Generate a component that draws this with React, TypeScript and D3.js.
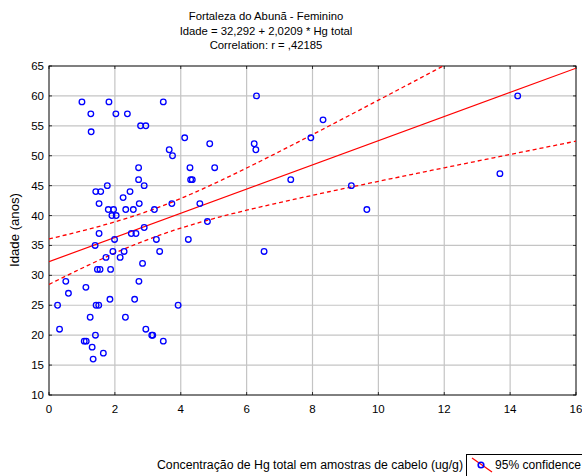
import React from "react";
import * as d3 from "d3";

// Hg total in hair (ug/g) and age (years) for each participant
const hgTotal = [
  1.0, 1.82, 3.47, 1.27, 2.03, 2.38, 1.28, 2.78, 2.94, 4.12, 3.65, 3.75, 2.72, 4.28, 2.72, 4.3, 4.35,
  2.89, 1.77, 1.42, 1.57, 1.52, 2.46, 2.25, 2.74, 3.73, 4.58, 1.8, 1.96, 1.91, 2.04, 2.33, 2.56, 3.2,
  1.52, 2.5, 2.64, 2.89, 1.4, 1.99, 3.26, 4.23, 1.94, 2.28, 3.36, 1.73, 2.16, 1.47, 1.55, 1.87, 2.84,
  0.51, 2.73, 0.59, 1.12, 0.26, 1.43, 1.51, 1.85, 2.6, 3.92, 0.32, 1.25, 2.32, 2.94, 1.07, 1.13, 1.41,
  3.12, 3.15, 3.47, 1.31, 1.34, 1.65, 6.3, 8.32, 7.95, 4.88, 6.23, 6.28, 5.03, 7.34, 9.18, 9.65, 4.81,
  6.53, 14.23, 13.69,
];
const idade = [
  59, 59, 59, 57, 57, 57, 54, 55, 55, 53, 51, 50, 48, 48, 46, 46, 46,
  45, 45, 44, 44, 42, 44, 43, 42, 42, 42, 41, 41, 40, 40, 41, 41, 41,
  37, 37, 37, 38, 35, 36, 36, 36, 34, 34, 34, 33, 33, 31, 31, 31, 32,
  29, 29, 27, 28, 25, 25, 25, 26, 26, 25, 21, 23, 23, 21, 19, 19, 20,
  20, 20, 19, 18, 16, 17, 60, 56, 53, 52, 52, 51, 48, 46, 45, 41, 39,
  34, 60, 47,
];

const intercept = 32.292;
const slope = 2.0209;

const titleLines = [
  "Fortaleza do Abunã - Feminino",
  "Idade = 32,292 + 2,0209 * Hg total",
  "Correlation: r = ,42185",
];
const xTicks = [0, 2, 4, 6, 8, 10, 12, 14, 16];
const yTicks = [10, 15, 20, 25, 30, 35, 40, 45, 50, 55, 60, 65];
const xTitle = "Concentração de Hg total em amostras de cabelo (ug/g)";
const yTitle = "Idade (anos)";
const legendLabel = "95% confidence";

const W = 582;
const H = 476;
const left = 49;
const right = 576;
const top = 66;
const bottom = 395;

export default function App() {
  const x = d3.scaleLinear().domain([0, 16]).range([left, right]);
  const y = d3.scaleLinear().domain([10, 65]).range([bottom, top]);

  const points = hgTotal.map((v, i) => ({ x: v, y: idade[i] }));
  const n = points.length;
  const xbar = d3.mean(hgTotal) as number;
  const sxx = d3.sum(hgTotal, (v) => (v - xbar) ** 2);
  const sse = d3.sum(points, (p) => (p.y - (intercept + slope * p.x)) ** 2);
  const s = Math.sqrt(sse / (n - 2));
  const t = 1.988;

  const fit = (v: number) => intercept + slope * v;
  const half = (v: number) => t * s * Math.sqrt(1 / n + (v - xbar) ** 2 / sxx);
  const xs = d3.range(0, 16.001, 0.1);

  const line = d3
    .line<number>()
    .x((v) => x(v))
    .y((v) => y(fit(v)));
  const upper = d3
    .line<number>()
    .x((v) => x(v))
    .y((v) => y(fit(v) + half(v)));
  const lower = d3
    .line<number>()
    .x((v) => x(v))
    .y((v) => y(fit(v) - half(v)));

  const font = "'Liberation Sans', Arial, sans-serif";

  return (
    <svg
      width={W}
      height={H}
      style={{ position: "absolute", left: 0, top: 0, background: "#fff" }}
      fontFamily={font}
    >
      <defs>
        <clipPath id="plotClip">
          <rect x={left} y={top} width={right - left} height={bottom - top} />
        </clipPath>
      </defs>
      <rect width={W} height={H} fill="#fff" />

      {titleLines.map((tl, i) => (
        <text key={i} x={266} y={20 + i * 14.5} textAnchor="middle" fontSize={11.3} fill="#000">
          {tl}
        </text>
      ))}

      {/* grid */}
      {xTicks.slice(1, -1).map((v) => (
        <line key={"gx" + v} x1={x(v)} x2={x(v)} y1={top} y2={bottom} stroke="#c4c4c4" strokeWidth={1.2} />
      ))}
      {yTicks.slice(1, -1).map((v) => (
        <line key={"gy" + v} x1={left} x2={right} y1={y(v)} y2={y(v)} stroke="#c4c4c4" strokeWidth={1.2} />
      ))}

      {/* inward ticks */}
      {xTicks.map((v) => (
        <g key={"tx" + v} stroke="#333" strokeWidth={1}>
          <line x1={x(v)} x2={x(v)} y1={top} y2={top + 3} />
          <line x1={x(v)} x2={x(v)} y1={bottom} y2={bottom - 3} />
        </g>
      ))}
      {yTicks.map((v) => (
        <g key={"ty" + v} stroke="#333" strokeWidth={1}>
          <line x1={left} x2={left + 3} y1={y(v)} y2={y(v)} />
          <line x1={right} x2={right - 3} y1={y(v)} y2={y(v)} />
        </g>
      ))}

      <rect x={left} y={top} width={right - left} height={bottom - top} fill="none" stroke="#000" strokeWidth={1} />

      {/* tick labels */}
      {xTicks.map((v) => (
        <text key={"lx" + v} x={x(v)} y={413} textAnchor="middle" fontSize={11.5} fill="#000">
          {v}
        </text>
      ))}
      {yTicks.map((v) => (
        <text key={"ly" + v} x={44} y={y(v) + 4} textAnchor="end" fontSize={11.5} fill="#000">
          {v}
        </text>
      ))}

      <g clipPath="url(#plotClip)" fill="none" stroke="#ff0000">
        <path d={upper(xs) ?? ""} strokeWidth={1.3} strokeDasharray="4,3" />
        <path d={lower(xs) ?? ""} strokeWidth={1.3} strokeDasharray="4,3" />
        <path d={line([0, 16]) ?? ""} strokeWidth={1.2} />
      </g>

      <g clipPath="url(#plotClip)">
        {points.map((p, i) => (
          <circle key={i} cx={x(p.x)} cy={y(p.y)} r={2.8} fill="none" stroke="#0000ff" strokeWidth={1.3} />
        ))}
      </g>

      <text
        x={16}
        y={230}
        transform="rotate(-90 16 230)"
        textAnchor="middle"
        dominantBaseline="middle"
        fontSize={12}
        fill="#000"
        textLength={74}
        lengthAdjust="spacingAndGlyphs"
      >
        {yTitle}
      </text>

      <text x={157} y={469} fontSize={12} fill="#000" textLength={306} lengthAdjust="spacingAndGlyphs">
        {xTitle}
      </text>

      {/* legend */}
      <rect x={466.5} y={454.5} width={130} height={30} fill="#fff" stroke="#000" strokeWidth={1} />
      <line x1={472} y1={458} x2={492} y2={472} stroke="#ff0000" strokeWidth={1.2} />
      <circle cx={481} cy={465} r={2.8} fill="none" stroke="#0000ff" strokeWidth={1.6} />
      <text x={495} y={469} fontSize={12} fill="#000" textLength={86} lengthAdjust="spacingAndGlyphs">
        {legendLabel}
      </text>
    </svg>
  );
}
